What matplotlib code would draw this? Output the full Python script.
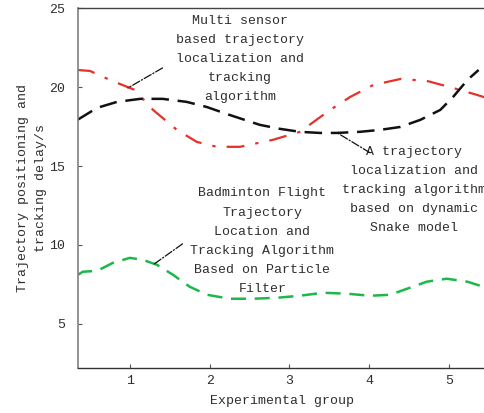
import matplotlib
matplotlib.use("Agg")
import matplotlib.pyplot as plt

# Data
red_x = [0.34, 0.50, 0.75, 1.06, 1.29, 1.59, 1.84, 2.09, 2.38, 2.79, 3.13, 3.51, 3.76, 4.05, 4.39, 4.72, 5.05, 5.35, 5.45]
red_y = [21.09, 21.03, 20.46, 19.83, 18.56, 17.29, 16.53, 16.22, 16.22, 16.66, 17.17, 18.56, 19.38, 20.14, 20.52, 20.40, 19.95, 19.51, 19.35]

black_x = [0.34, 0.59, 0.84, 1.13, 1.41, 1.71, 1.96, 2.25, 2.63, 2.88, 3.13, 3.38, 3.59, 3.88, 4.13, 4.39, 4.64, 4.89, 5.05, 5.23, 5.37]
black_y = [17.92, 18.69, 19.07, 19.26, 19.26, 19.07, 18.75, 18.24, 17.61, 17.36, 17.17, 17.10, 17.10, 17.17, 17.29, 17.48, 17.93, 18.56, 19.38, 20.46, 21.09]

green_x = [0.35, 0.41, 0.59, 0.79, 1.00, 1.16, 1.34, 1.54, 1.75, 1.97, 2.25, 2.54, 2.84, 3.13, 3.42, 3.72, 4.01, 4.26, 4.51, 4.72, 4.97, 5.23, 5.43]
green_y = [8.11, 8.30, 8.36, 8.87, 9.18, 9.06, 8.74, 8.11, 7.35, 6.84, 6.59, 6.59, 6.65, 6.78, 6.97, 6.91, 6.78, 6.84, 7.29, 7.67, 7.86, 7.67, 7.35]

x_ticks = [1, 2, 3, 4, 5]
y_ticks = [5, 10, 15, 20, 25]

label_multi = "Multi sensor\nbased trajectory\nlocalization and\ntracking\nalgorithm"
label_snake = "A trajectory\nlocalization and\ntracking algorithm\nbased on dynamic\nSnake model"
label_particle = "Badminton Flight\nTrajectory\nLocation and\nTracking Algorithm\nBased on Particle\nFilter"

FONT = ["Liberation Mono", "DejaVu Sans Mono"]
TXT = "#2e2e2e"
FS = 9.5
LS = 1.8

fig = plt.figure(figsize=(4.85, 4.13), dpi=100)
W, H = 485, 413
ax = fig.add_axes([78 / W, 1 - 368 / H, (485 - 78) / W, (368 - 8.3) / H])

ax.plot(red_x, red_y, color="#e8302a", lw=1.6, dashes=(8, 5, 1.5, 5))
ax.plot(black_x, black_y, color="#111111", lw=1.8, dashes=(7, 3.5))
ax.plot(green_x, green_y, color="#1db84a", lw=1.8, dashes=(6, 3.5))

ax.set_xlim(0.35, 5.45)
ax.set_ylim(2.2, 25)
ax.set_xticks(x_ticks)
ax.set_yticks(y_ticks)
ax.set_xticklabels([str(v) for v in x_ticks], fontfamily=FONT, fontsize=FS, color=TXT)
ax.set_yticklabels([str(v) for v in y_ticks], fontfamily=FONT, fontsize=FS, color=TXT)
ax.tick_params(axis="both", direction="in", length=3, width=0.8, color="#555555")
ax.tick_params(axis="x", pad=5)
ax.tick_params(axis="y", pad=9)

ax.spines["right"].set_visible(False)
ax.spines["left"].set_color("#808080")
ax.spines["left"].set_linewidth(1.2)
ax.spines["bottom"].set_color("#333333")
ax.spines["bottom"].set_linewidth(1.0)
ax.spines["top"].set_color("#444444")
ax.spines["top"].set_linewidth(1.0)

ax.set_xlabel("Experimental group", fontfamily=FONT, fontsize=FS, color=TXT, labelpad=6)
ax.set_ylabel("Trajectory positioning and\ntracking delay/s", fontfamily=FONT, fontsize=FS,
              color=TXT, labelpad=2, linespacing=1.6)

# Annotation texts
ax.text(2.38, 24.6, label_multi, ha="center", va="top", fontfamily=FONT, fontsize=FS,
        color=TXT, linespacing=LS)
ax.text(4.56, 16.3, label_snake, ha="center", va="top", fontfamily=FONT, fontsize=FS,
        color=TXT, linespacing=LS, clip_on=False)
ax.text(2.66, 13.65, label_particle, ha="center", va="top", fontfamily=FONT, fontsize=FS,
        color=TXT, linespacing=LS)

# Leader lines
ax.annotate("", xy=(0.975, 19.95), xytext=(1.41, 21.22),
            arrowprops=dict(arrowstyle="-", color="#111111", lw=0.9, linestyle="-.",
                            shrinkA=0, shrinkB=0))
ax.annotate("", xy=(3.60, 17.10), xytext=(4.01, 15.84),
            arrowprops=dict(arrowstyle="-", color="#111111", lw=0.9, linestyle="-.",
                            shrinkA=0, shrinkB=0))
ax.annotate("", xy=(1.29, 8.74), xytext=(1.66, 10.07),
            arrowprops=dict(arrowstyle="-", color="#111111", lw=0.9, linestyle="-.",
                            shrinkA=0, shrinkB=0))

fig.savefig("out.png", dpi=100)
